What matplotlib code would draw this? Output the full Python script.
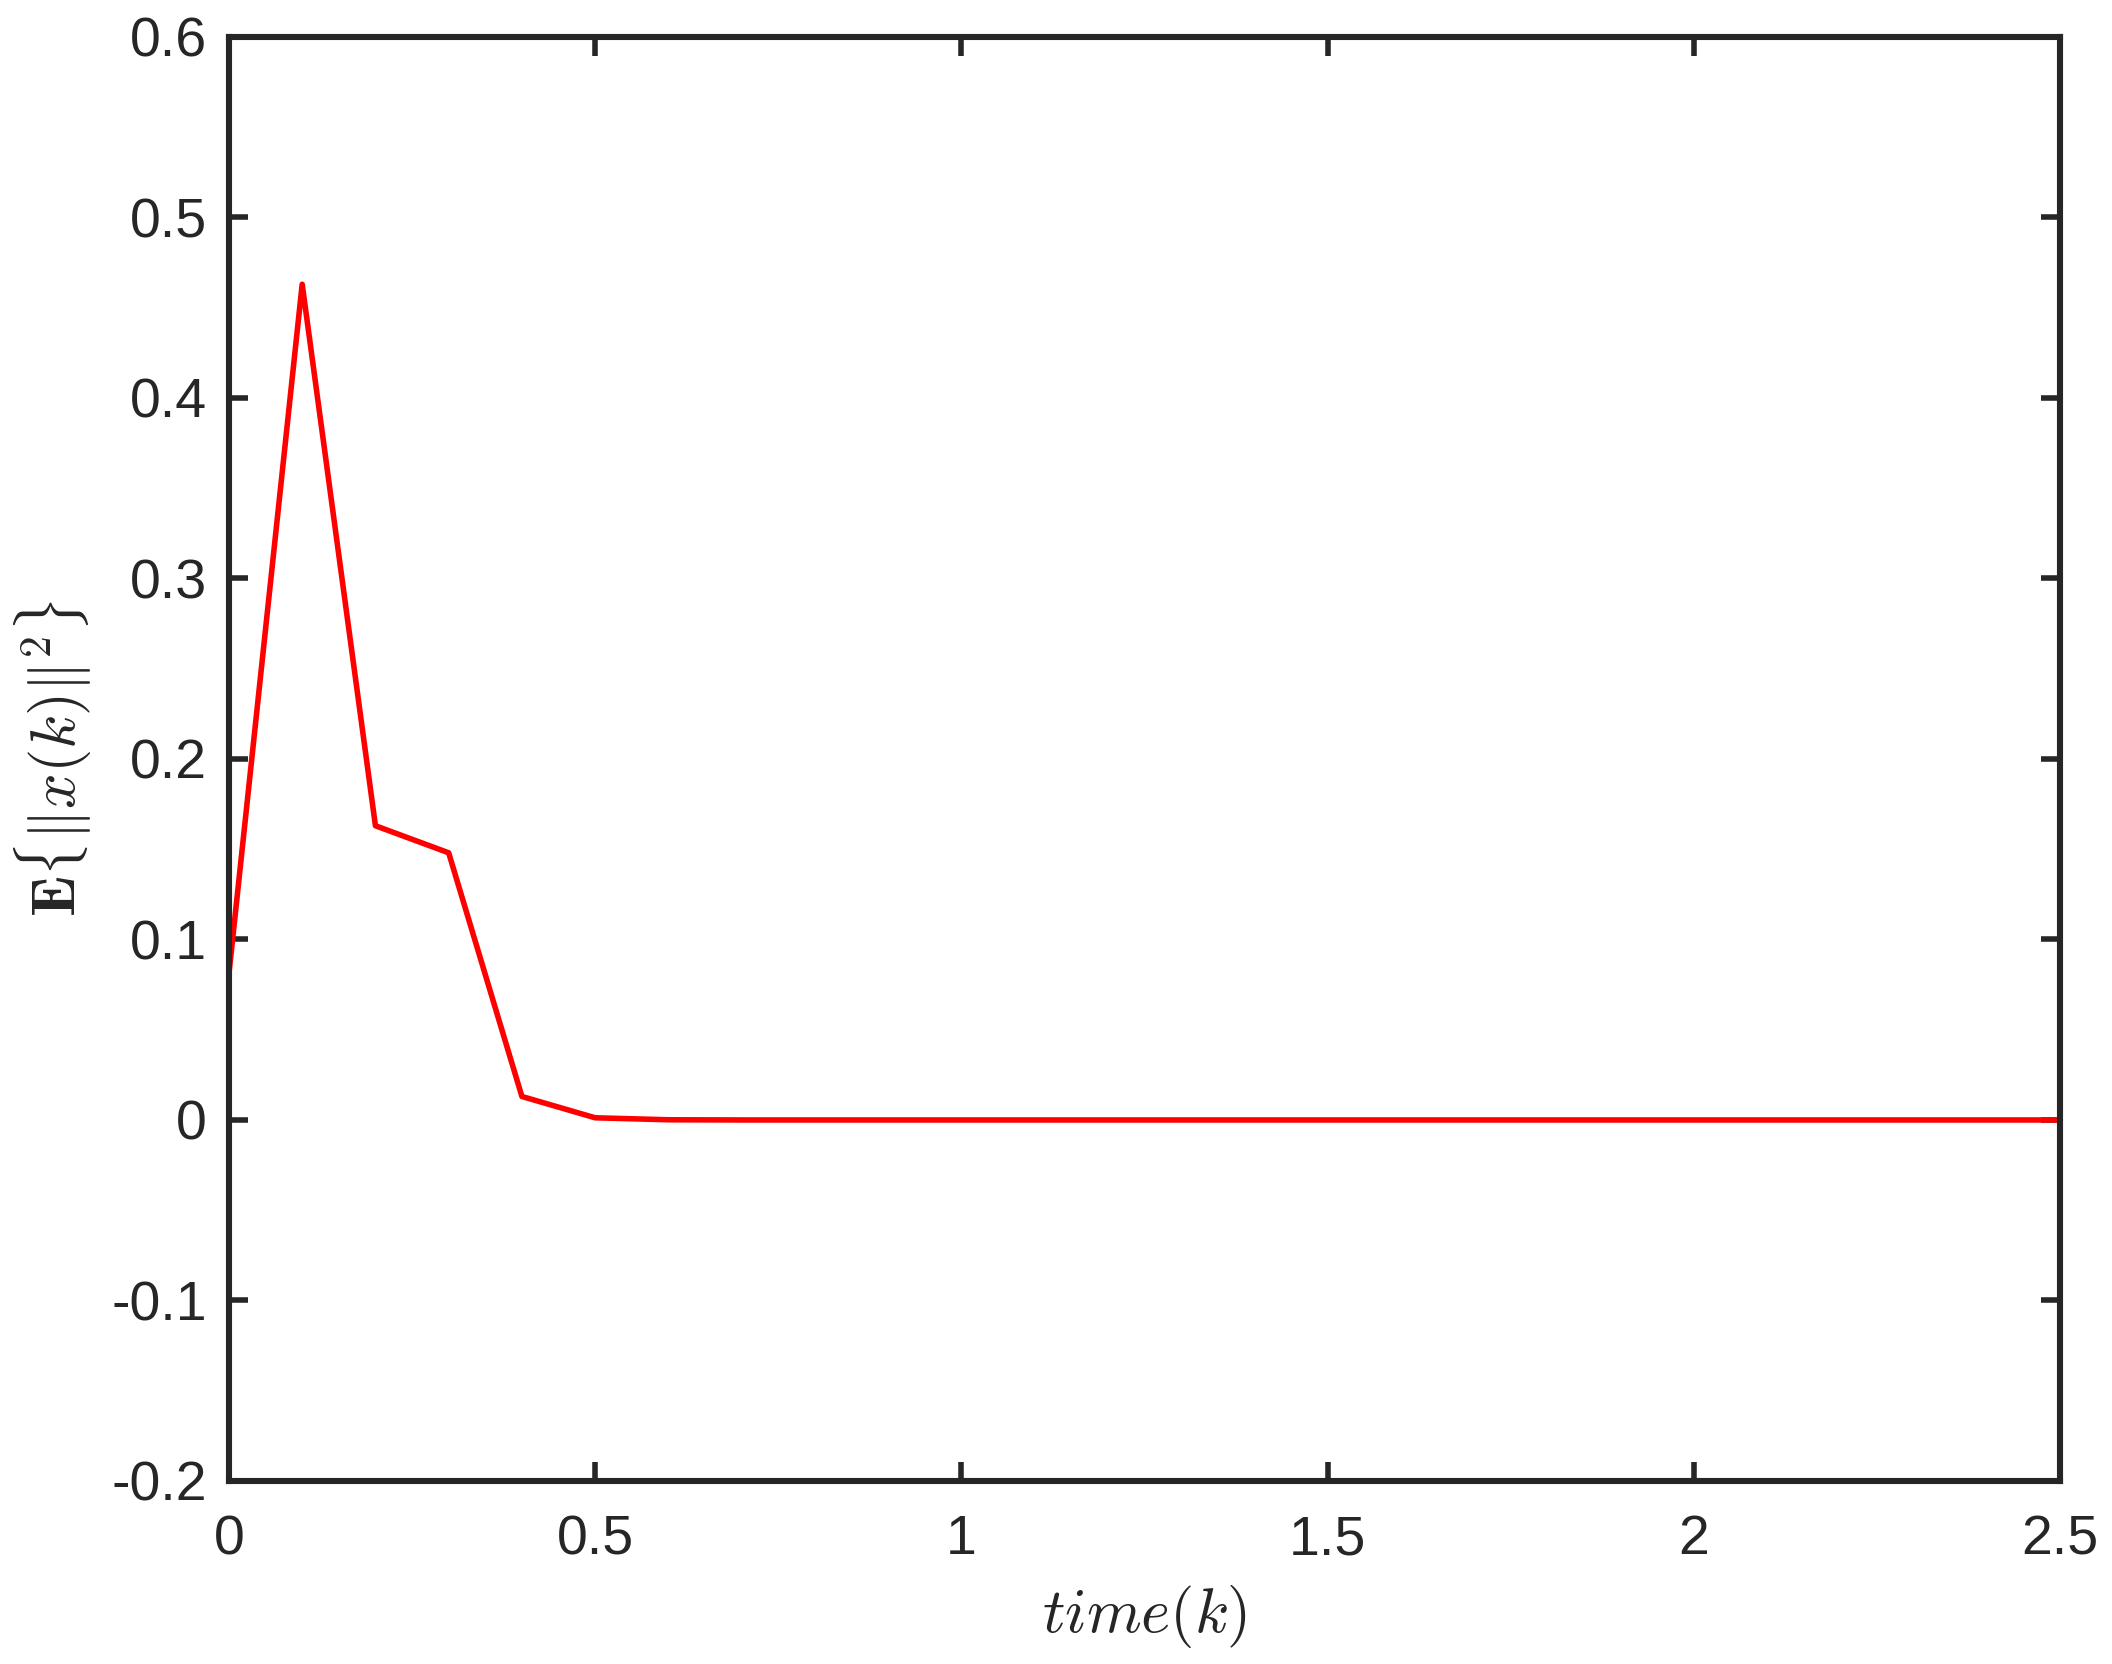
import numpy as np
import matplotlib
matplotlib.use("Agg")
import matplotlib.pyplot as plt

# sampled every 0.1 from 0 to 2.5
time_k = [0.0, 0.1, 0.2, 0.3, 0.4, 0.5, 0.6, 0.7, 0.8, 0.9, 1.0, 1.1, 1.2, 1.3,
          1.4, 1.5, 1.6, 1.7, 1.8, 1.9, 2.0, 2.1, 2.2, 2.3, 2.4, 2.5]
energy = [0.081, 0.463, 0.163, 0.148, 0.013, 0.0012, 0.0001, 0.0, 0.0, 0.0,
          0.0, 0.0, 0.0, 0.0, 0.0, 0.0, 0.0, 0.0, 0.0, 0.0, 0.0, 0.0, 0.0,
          0.0, 0.0, 0.0]

x_ticks = [0, 0.5, 1, 1.5, 2, 2.5]
x_tick_labels = ['0', '0.5', '1', '1.5', '2', '2.5']
y_ticks = [-0.2, -0.1, 0, 0.1, 0.2, 0.3, 0.4, 0.5, 0.6]
y_tick_labels = ['-0.2', '-0.1', '0', '0.1', '0.2', '0.3', '0.4', '0.5', '0.6']

plt.rcParams['font.family'] = ['Liberation Sans', 'DejaVu Sans']
plt.rcParams['mathtext.fontset'] = 'cm'

dark = '#262626'
fig = plt.figure(figsize=(10.56, 8.32), dpi=200)
ax = fig.add_axes([0.1084, 0.110, 0.867, 0.8678])

ax.plot(time_k, energy, color='#ff0000', linewidth=2.0)

ax.set_xlim(0, 2.5)
ax.set_ylim(-0.2, 0.6)
ax.set_xticks(x_ticks)
ax.set_xticklabels(x_tick_labels)
ax.set_yticks(y_ticks)
ax.set_yticklabels(y_tick_labels)

ax.tick_params(direction='in', length=7, width=2.0, colors=dark,
               labelsize=20, top=True, right=True)
ax.tick_params(axis='x', pad=12)
ax.tick_params(axis='y', pad=8)
for s in ax.spines.values():
    s.set_linewidth(2.2)
    s.set_color(dark)

ax.set_xlabel(r'$time(k)$', fontsize=22.5, color=dark, labelpad=6)
ax.set_ylabel(r'$\mathbf{E}\{\|x(k)\|^2\}$', fontsize=22.5, color=dark, labelpad=6)

fig.savefig('out.png', dpi=200, facecolor='white')
